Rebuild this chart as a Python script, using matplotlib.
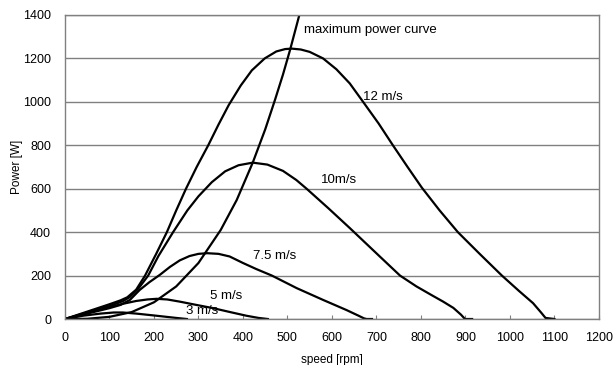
import matplotlib
matplotlib.use("Agg")
import matplotlib.pyplot as plt

plt.rcParams['font.family'] = ['Liberation Sans', 'DejaVu Sans']

# power curves: speed [rpm] vs power [W]
rpm_12 = [0, 100, 125, 140, 160, 180, 205, 229, 250, 272, 296, 322, 345, 368, 395, 420, 449,
          475, 495, 510, 530, 550, 580, 610, 640, 670, 705, 737, 770, 802, 842, 883, 932, 982,
          1020, 1052, 1070, 1080, 1100]
pow_12 = [0, 68, 86, 100, 135, 200, 300, 400, 500, 600, 700, 800, 895, 985, 1075, 1145, 1200,
          1232, 1243, 1245, 1241, 1230, 1200, 1150, 1085, 1000, 900, 800, 700, 605, 500, 400, 300,
          200, 130, 73, 30, 5, 0]

rpm_10 = [0, 100, 130, 145, 165, 187, 210, 243, 275, 300, 330, 360, 390, 422, 455, 490, 520,
          543, 592, 640, 708, 753, 790, 824, 850, 873, 890, 899, 915]
pow_10 = [0, 60, 82, 100, 140, 200, 290, 400, 500, 565, 630, 680, 708, 720, 711, 682, 640,
          600, 510, 419, 287, 200, 150, 110, 80, 51, 20, 0, 0]

rpm_75 = [0, 100, 125, 146, 168, 190, 213, 236, 258, 280, 300, 320, 345, 370, 400, 430, 465,
          521, 580, 633, 660, 672, 678, 690]
pow_75 = [0, 50, 65, 88, 134, 170, 203, 240, 270, 290, 300, 303, 300, 288, 258, 230, 200,
          142, 88, 41, 15, 3, 0, 0]

rpm_5 = [0, 50, 100, 130, 160, 185, 206, 230, 258, 295, 333, 371, 408, 435, 456]
pow_5 = [0, 28, 55, 70, 83, 90, 93, 90, 80, 65, 50, 32, 15, 5, 0]

rpm_3 = [0, 40, 80, 110, 130, 160, 206, 250, 274]
pow_3 = [0, 15, 25, 30, 30, 25, 15, 5, 0]

rpm_max = [0, 50, 100, 150, 200, 250, 300, 350, 386, 422, 450, 472, 490, 506, 530]
pow_max = [0, 1, 10, 32, 77, 150, 258, 410, 548, 720, 873, 1009, 1126, 1240, 1425]

x_ticks = list(range(0, 1201, 100))
y_ticks = list(range(0, 1401, 200))

fig = plt.figure(figsize=(6.13, 3.65), dpi=100)
ax = fig.add_axes([0.106, 0.126, 0.871, 0.833])

lw = 1.6
for xs, ys in [(rpm_12, pow_12), (rpm_10, pow_10), (rpm_75, pow_75),
               (rpm_5, pow_5), (rpm_3, pow_3), (rpm_max, pow_max)]:
    ax.plot(xs, ys, color='black', linewidth=lw, solid_joinstyle='round')

ax.set_xlim(0, 1200)
ax.set_ylim(0, 1400)
ax.set_xticks(x_ticks)
ax.set_yticks(y_ticks)
ax.yaxis.grid(True, color='#808080', linewidth=1.0)
ax.set_axisbelow(True)
for s in ax.spines.values():
    s.set_color('#808080')
    s.set_linewidth(1.0)
ax.tick_params(axis='x', direction='in', length=3, color='#808080', labelsize=9, pad=9)
ax.tick_params(axis='y', length=0, labelsize=9, pad=10)

ax.set_xlabel('speed [rpm]', fontsize=8.5, labelpad=7.5)
ax.set_ylabel('Power [W]', fontsize=8.5, labelpad=0)

ax.text(538, 1330, 'maximum power curve', fontsize=9.5, ha='left', va='center')
ax.text(670, 1020, '12 m/s', fontsize=9.5, ha='left', va='center')
ax.text(575, 640, '10m/s', fontsize=9.5, ha='left', va='center')
ax.text(422, 290, '7.5 m/s', fontsize=9.5, ha='left', va='center')
ax.text(325, 105, '5 m/s', fontsize=9.5, ha='left', va='center')
ax.text(272, 35, '3 m/s', fontsize=9.5, ha='left', va='center')

fig.savefig('out.png', dpi=100)
